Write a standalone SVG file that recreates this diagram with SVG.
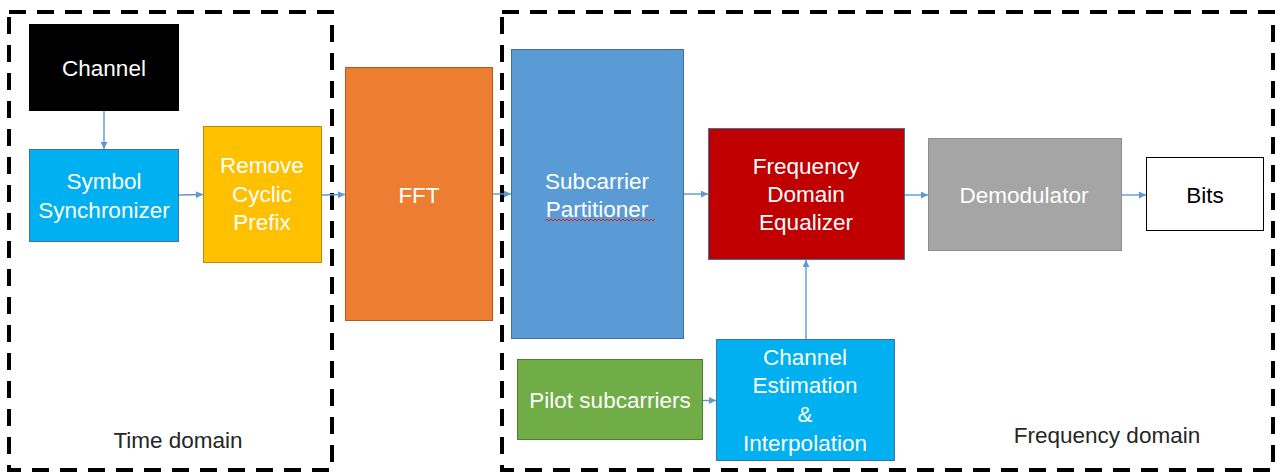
<svg xmlns="http://www.w3.org/2000/svg" width="1277" height="472" viewBox="0 0 1277 472">
<style>
  text { font-family: "Liberation Sans", Arial, sans-serif; font-size: 22.5px; text-anchor: middle; }
  .w { fill: #ffffff; }
  .k { fill: #000000; }
  .lbl { fill: #262626; }
  .region { fill: none; stroke: #000000; stroke-width: 4; stroke-dasharray: 17 11; }
  .conn { stroke: #5B9BD5; stroke-width: 1.4; fill: none; marker-end: url(#arr); }
</style>
<defs>
  <marker id="arr" viewBox="0 0 10 10" refX="10" refY="5" markerWidth="8" markerHeight="7" markerUnits="userSpaceOnUse" orient="auto">
    <path d="M0,0 L10,5 L0,10 z" fill="#5B9BD5"/>
  </marker>
</defs>
<rect width="1277" height="472" fill="#ffffff"/>

<g id="time-domain-region">
  <rect class="region" x="9" y="12" width="323" height="458"/>
  <text class="lbl" x="178" y="448">Time domain</text>
</g>
<g id="frequency-domain-region">
  <rect class="region" x="502" y="12" width="771" height="458"/>
  <text class="lbl" x="1107" y="443">Frequency domain</text>
</g>

<g id="channel">
  <rect x="29" y="24" width="150" height="87" fill="#000000"/>
  <text class="w" x="104" y="76">Channel</text>
</g>
<g id="symbol-synchronizer">
  <rect x="29.5" y="149.5" width="149" height="92" fill="#00B0F0" stroke="#41719C" stroke-width="1"/>
  <text class="w" x="104" y="189">Symbol</text>
  <text class="w" x="104" y="218">Synchronizer</text>
</g>
<g id="remove-cyclic-prefix">
  <rect x="203.5" y="126.5" width="118" height="136" fill="#FFC000" stroke="#BC8C00" stroke-width="1"/>
  <text class="w" x="262" y="173">Remove</text>
  <text class="w" x="262" y="202">Cyclic</text>
  <text class="w" x="262" y="230">Prefix</text>
</g>
<g id="fft">
  <rect x="345.5" y="67.5" width="147" height="253" fill="#ED7D31" stroke="#AE5A21" stroke-width="1"/>
  <text class="w" x="419" y="203">FFT</text>
</g>
<g id="subcarrier-partitioner">
  <rect x="511.5" y="49.5" width="172" height="289" fill="#5B9BD5" stroke="#41719C" stroke-width="1"/>
  <text class="w" x="597" y="189">Subcarrier</text>
  <text class="w" x="597" y="217">Partitioner</text>
  <path d="M545,221 l2,-2 l2,2 l2,-2 l2,2 l2,-2 l2,2 l2,-2 l2,2 l2,-2 l2,2 l2,-2 l2,2 l2,-2 l2,2 l2,-2 l2,2 l2,-2 l2,2 l2,-2 l2,2 l2,-2 l2,2 l2,-2 l2,2 l2,-2 l2,2 l2,-2 l2,2 l2,-2 l2,2 l2,-2 l2,2 l2,-2 l2,2 l2,-2 l2,2 l2,-2 l2,2 l2,-2 l2,2 l2,-2 l2,2 l2,-2 l2,2 l2,-2 l2,2 l2,-2 l2,2 l2,-2 l2,2 l2,-2 l2,2 l2,-2 l2,2 l2,-2" fill="none" stroke="#E02020" stroke-width="1"/>
</g>
<g id="frequency-domain-equalizer">
  <rect x="708.5" y="128.5" width="196" height="131" fill="#C00000" stroke="#41719C" stroke-width="1"/>
  <text class="w" x="806" y="174">Frequency</text>
  <text class="w" x="806" y="202">Domain</text>
  <text class="w" x="806" y="230">Equalizer</text>
</g>
<g id="demodulator">
  <rect x="928.5" y="138.5" width="193" height="112" fill="#A5A5A5" stroke="#8E8E8E" stroke-width="1"/>
  <text class="w" x="1024" y="203">Demodulator</text>
</g>
<g id="bits">
  <rect x="1146.5" y="157.5" width="117" height="73" fill="#ffffff" stroke="#000000" stroke-width="1"/>
  <text class="k" x="1205" y="203">Bits</text>
</g>
<g id="pilot-subcarriers">
  <rect x="517.5" y="359.5" width="185" height="80" fill="#70AD47" stroke="#507E32" stroke-width="1"/>
  <text class="w" x="610" y="408">Pilot subcarriers</text>
</g>
<g id="channel-estimation-interpolation">
  <rect x="716.5" y="339.5" width="178" height="121" fill="#00B0F0" stroke="#41719C" stroke-width="1"/>
  <text class="w" x="805" y="365">Channel</text>
  <text class="w" x="805" y="393">Estimation</text>
  <text class="w" x="805" y="422">&amp;</text>
  <text class="w" x="805" y="451">Interpolation</text>
</g>

<g id="connectors">
  <line class="conn" x1="104" y1="111" x2="104" y2="149"/>
  <line class="conn" x1="179" y1="195" x2="203" y2="194.5"/>
  <line class="conn" x1="322" y1="195" x2="345" y2="194.5"/>
  <line class="conn" x1="493" y1="194" x2="511" y2="194"/>
  <line class="conn" x1="684" y1="194" x2="708" y2="194"/>
  <line class="conn" x1="905" y1="195" x2="928" y2="195"/>
  <line class="conn" x1="1122" y1="195" x2="1146" y2="195"/>
  <line class="conn" x1="703" y1="400.5" x2="716" y2="400.5"/>
  <line class="conn" x1="806" y1="339" x2="806" y2="260"/>
</g>
</svg>
